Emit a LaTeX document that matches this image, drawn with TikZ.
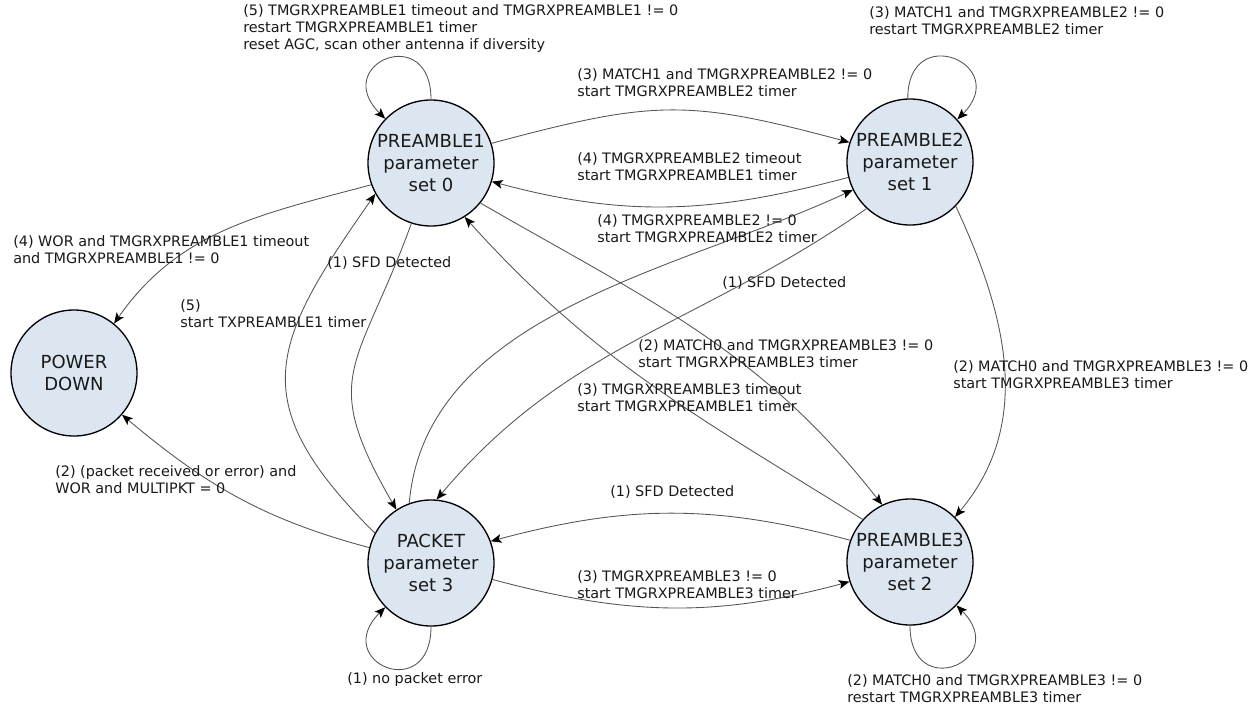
\documentclass[tikz,border=0pt]{standalone}
\usepackage{fontspec}
\setmainfont{DejaVu Sans}
\usetikzlibrary{arrows.meta}
\definecolor{statefill}{RGB}{220,230,241}
\definecolor{edgecol}{RGB}{85,85,85}
\definecolor{txtcol}{RGB}{25,25,25}
\begin{document}
\begin{tikzpicture}[x=0.75pt,y=0.75pt,
  state/.style={circle, draw=black, line width=1pt, fill=statefill, minimum size=94.5pt, inner sep=0pt, align=center, text=txtcol, font=\fontsize{13.5}{16.5}\selectfont},
  lbl/.style={anchor=west, inner sep=0pt, align=left, text=txtcol, font=\fontsize{10.8}{12.75}\selectfont},
  edge/.style={draw=edgecol, line width=0.65pt, -{Stealth[length=8pt,width=6.5pt,inset=1.8pt,color=black]}}]
\useasboundingbox (0,0) rectangle (1258,-708);
\node[state] (p1) at (431,-163) {PREAMBLE1\\parameter\\set 0};
\node[state] (p2) at (910,-162) {PREAMBLE2\\parameter\\set 1};
\node[state] (pd) at (74,-373) {POWER\\DOWN};
\node[state] (pk) at (431,-563) {PACKET\\parameter\\set 3};
\node[state] (p3) at (910,-562) {PREAMBLE3\\parameter\\set 2};

% self loops
\draw[edge] (p1.90) to[out=90,in=135,looseness=4] (p1.136);
\draw[edge] (p2.92) to[out=90,in=45,looseness=3.7] (p2.42);
\draw[edge] (pk.270) to[out=270,in=225,looseness=4] (pk.224);
\draw[edge] (p3.270) to[out=270,in=315,looseness=3.9] (p3.317);

% transitions
\draw[edge] (p1.18) to[out=15,in=165,looseness=1.2] (p2.162);
\draw[edge] (p2.194) to[out=195,in=-15] (p1.343);
\draw[edge] (p1.200) to[out=195,in=55] (pd.51);
\draw[edge] (pk.152) to[out=135,in=235,looseness=1.4] (p1.209);
\draw[edge] (p1.252) to[out=250,in=120,looseness=1.4] (pk.123);
\draw[edge] (p3.138) to[out=148,in=-48] (p1.302);
\draw[edge] (p1.321) to[out=-30,in=128] (p3.116);
\draw[edge] (p2.227) to[out=215,in=50] (pk.85);
\draw[edge] (pk.110) to[out=85,in=205,looseness=0.9] (p2.206);
\draw[edge] (p2.316) to[out=-65,in=50] (p3.45);
\draw[edge] (p3.160) to[out=165,in=15] (pk.20);
\draw[edge] (pk.345) to[out=-15,in=195] (p3.198);
\draw[edge] (pk.166) to[out=165,in=-40] (pd.319);

% labels
\node[lbl] (l1) at (243,-29) {(5) TMGRXPREAMBLE1 timeout and TMGRXPREAMBLE1 != 0\\restart TMGRXPREAMBLE1 timer\\reset AGC, scan other antenna if diversity};
\node[lbl] (l2) at (869,-20.5) {(3) MATCH1 and TMGRXPREAMBLE2 != 0\\restart TMGRXPREAMBLE2 timer};
\node[lbl] (l3) at (577,-83) {(3) MATCH1 and TMGRXPREAMBLE2 != 0\\start TMGRXPREAMBLE2 timer};
\node[lbl] (l4) at (577,-167) {(4) TMGRXPREAMBLE2 timeout\\start TMGRXPREAMBLE1 timer};
\node[lbl] (l5) at (597,-229) {(4) TMGRXPREAMBLE2 != 0\\start TMGRXPREAMBLE2 timer};
\node[lbl] (l6) at (13,-249.5) {(4) WOR and TMGRXPREAMBLE1 timeout\\and TMGRXPREAMBLE1 != 0};
\node[lbl] (l7) at (327,-263) {(1) SFD Detected};
\node[lbl] (l8) at (722,-283) {(1) SFD Detected};
\node[lbl] (l9) at (180,-313.5) {(5)\\start TXPREAMBLE1 timer};
\node[lbl] (l10) at (638,-354) {(2) MATCH0 and TMGRXPREAMBLE3 != 0\\start TMGRXPREAMBLE3 timer};
\node[lbl] (l11) at (953,-375) {(2) MATCH0 and TMGRXPREAMBLE3 != 0\\start TMGRXPREAMBLE3 timer};
\node[lbl] (l12) at (577,-398) {(3) TMGRXPREAMBLE3 timeout\\start TMGRXPREAMBLE1 timer};
\node[lbl] (l13) at (55,-480) {(2) (packet received or error) and\\WOR and MULTIPKT = 0};
\node[lbl] (l14) at (610,-492) {(1) SFD Detected};
\node[lbl] (l15) at (577,-585) {(3) TMGRXPREAMBLE3 != 0\\start TMGRXPREAMBLE3 timer};
\node[lbl] (l16) at (347,-680) {(1) no packet error};
\node[lbl] (l17) at (847,-688.5) {(2) MATCH0 and TMGRXPREAMBLE3 != 0\\restart TMGRXPREAMBLE3 timer};
\end{tikzpicture}
\end{document}
